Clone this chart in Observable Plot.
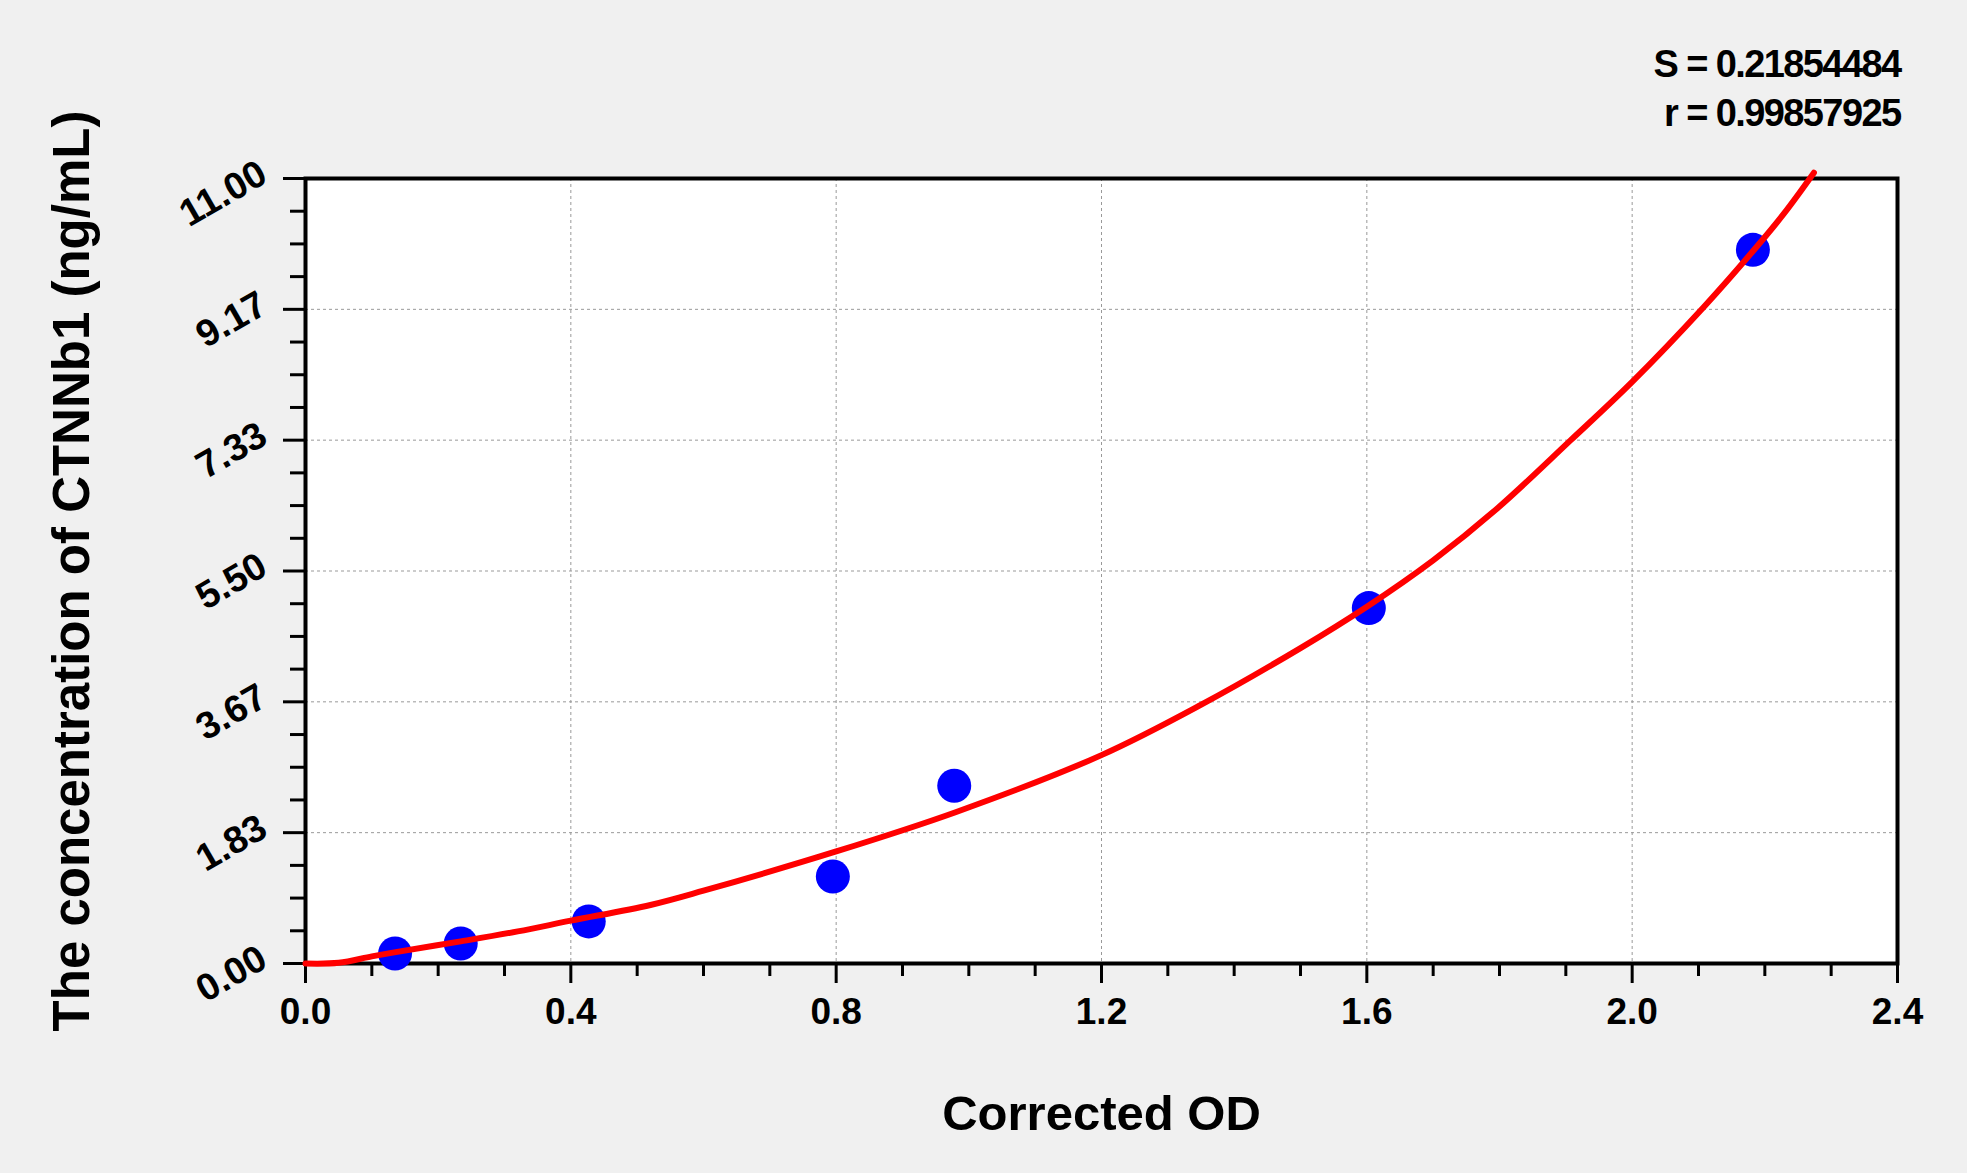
<!DOCTYPE html>
<html>
<head>
<meta charset="utf-8">
<script src="https://cdn.jsdelivr.net/npm/d3@7"></script>
<script src="https://cdn.jsdelivr.net/npm/@observablehq/plot@0.6"></script>
<style>
  body { margin: 0; background: #f0f0f0; }
  #chart svg { display: block; }
</style>
</head>
<body>
<div id="chart"></div>
<script>
// measured standards (corrected OD vs concentration)
const odValues = [0.135, 0.234, 0.427, 0.795, 0.978, 1.603, 2.182];
const concValues = [0.14, 0.28, 0.59, 1.22, 2.49, 4.98, 10.0];

// fitted curve
const fitOD = [0, 0.05, 0.1, 0.136, 0.234, 0.32, 0.4, 0.52, 0.6, 0.8, 0.98, 1.2, 1.349, 1.5, 1.6, 1.7, 1.797, 1.907, 2.0, 2.108, 2.181, 2.229, 2.274];
const fitConc = [0, 0.01, 0.1, 0.16, 0.31, 0.45, 0.6, 0.82, 1.02, 1.57, 2.12, 2.92, 3.62, 4.42, 5.0, 5.65, 6.38, 7.33, 8.15, 9.2, 9.97, 10.51, 11.08];

const xTicks = [0, 0.4, 0.8, 1.2, 1.6, 2.0, 2.4];
const xMinor = [0.1, 0.2, 0.3, 0.5, 0.6, 0.7, 0.9, 1.0, 1.1, 1.3, 1.4, 1.5, 1.7, 1.8, 1.9, 2.1, 2.2, 2.3];
const yTicks = [0, 11 / 6, 22 / 6, 33 / 6, 44 / 6, 55 / 6, 11];
const yTickLabels = ["0.00", "1.83", "3.67", "5.50", "7.33", "9.17", "11.00"];
const yMinor = d3.range(0, 24).map(i => i * 11 / 24).filter((d, i) => i % 4 != 0);

const statLines = ["S = 0.21854484", "r = 0.99857925"];

const points = odValues.map((x, i) => ({x, y: concValues[i]}));
const fit = fitOD.map((x, i) => ({x, y: fitConc[i]}));

const font = "'Liberation Sans', Arial, sans-serif";

let chart = Plot.plot({
  width: 1967,
  height: 1173,
  marginLeft: 305,
  marginRight: 70,
  marginTop: 178,
  marginBottom: 210,
  style: {background: "transparent", fontFamily: font, color: "black"},
  x: {domain: [0, 2.4]},
  y: {domain: [0, 11]},
  marks: [
    Plot.frame({fill: "white"}),
    Plot.gridX({ticks: xTicks, stroke: "#999", strokeOpacity: 1, strokeDasharray: "3,3"}),
    Plot.gridY({ticks: yTicks, stroke: "#999", strokeOpacity: 1, strokeDasharray: "3,3"}),
    Plot.frame({stroke: "black", strokeWidth: 4}),
    Plot.axisX({ticks: xTicks, tickSize: 20, tickPadding: 14, strokeWidth: 3, label: null,
      fontSize: 37, fontWeight: "bold", tickFormat: d3.format(".1f")}),
    Plot.axisX({ticks: xMinor, tickSize: 13, strokeWidth: 3, label: null, tickFormat: () => ""}),
    Plot.axisY({ticks: yTicks, tickSize: 22, strokeWidth: 3, label: null, tickFormat: () => ""}),
    Plot.axisY({ticks: yTicks, tickSize: 0, tickPadding: 42, label: null,
      fontSize: 38, fontWeight: "bold", tickRotate: -30, dy: -8,
      tickFormat: d => yTickLabels[yTicks.indexOf(d)]}),
    Plot.axisY({ticks: yMinor, tickSize: 15, strokeWidth: 3, label: null, tickFormat: () => ""}),
    Plot.dot(points, {x: "x", y: "y", r: 17, fill: "#0000ff"}),
    Plot.line(fit, {x: "x", y: "y", stroke: "#ff0000", strokeWidth: 6, curve: "catmull-rom"}),
    Plot.text(["Corrected OD"], {frameAnchor: "bottom", dy: 166, fontSize: 49, fontWeight: "bold"}),
    Plot.text(["The concentration of CTNNb1 (ng/mL)"], {frameAnchor: "left", textAnchor: "middle",
      dx: -233, rotate: -90, fontSize: 51, fontWeight: "bold"}),
    Plot.text(statLines, {frameAnchor: "top-right", textAnchor: "end", lineAnchor: "middle",
      fontSize: 38, fontWeight: "bold"})
  ]
})

// the two fit statistics sit on separate lines above the frame, tightly set
d3.select(chart).selectAll("text").filter(function() {
  return statLines.includes(this.textContent)
}).attr("letter-spacing", -1.6)
  .attr("transform", function() {
    const i = statLines.indexOf(this.textContent)
    return `translate(${1967 - 70 + 3},${178 - 114 + i * 49})`
  })

d3.select('#chart').append(() => chart)
</script>
</body>
</html>
